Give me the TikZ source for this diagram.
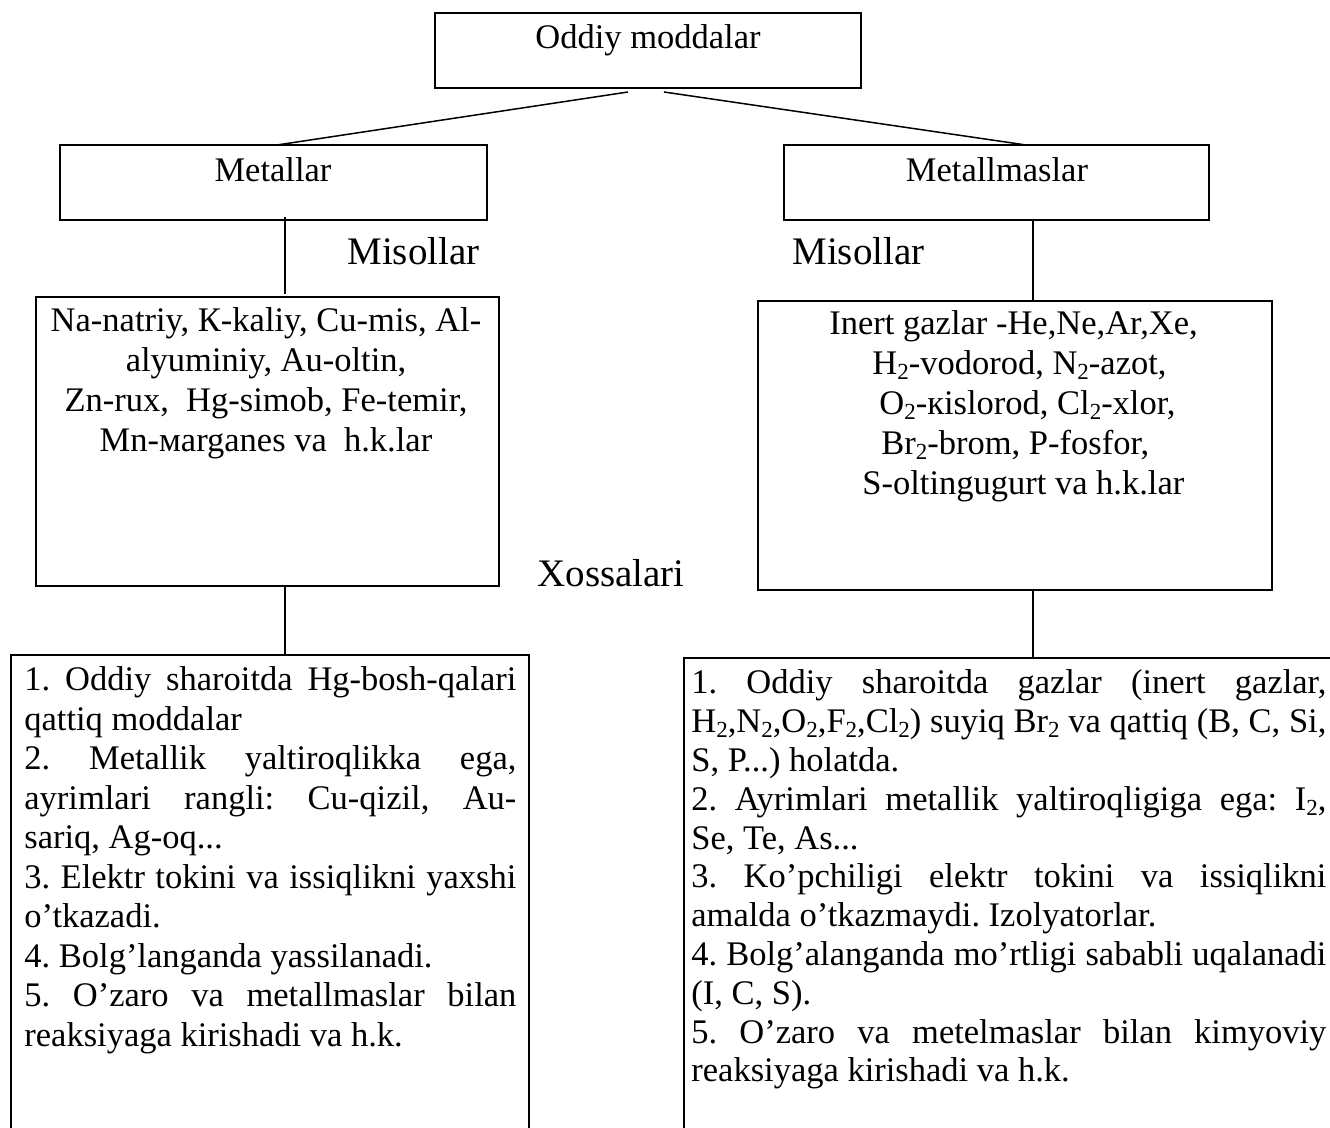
\documentclass[tikz,border=0pt]{standalone}
\usepackage{fontspec}
\setmainfont{Liberation Serif}
\frenchspacing
\newcommand\jl[1]{\makebox[\linewidth][s]{#1}\par}
\newcommand\pl[1]{#1\par}
\newcommand\subs[1]{\raisebox{-0.3ex}{\fontsize{11.5pt}{12pt}\selectfont #1}}
\begin{document}
\begin{tikzpicture}[x=0.5pt,y=-0.5pt,
  box/.style={draw, line width=1.2pt, inner sep=0pt, outer sep=0pt},
  lbl/.style={inner sep=0pt, font=\fontsize{17.25pt}{19.75pt}\selectfont},
  biglbl/.style={inner sep=0pt, font=\fontsize{19.5pt}{22pt}\selectfont},
  conn/.style={line width=0.75pt}]
\useasboundingbox (0,0) rectangle (1330,1128);
\clip (0,0) rectangle (1330,1128);

% boxes
\node[box, minimum width=213pt, minimum height=37.5pt] (top) at (648,50.5) {};
\node[box, minimum width=213.5pt, minimum height=37.5pt] (met) at (273.5,182.5) {};
\node[box, minimum width=212.5pt, minimum height=37.5pt] (nmet) at (996.5,182.5) {};
\node[box, minimum width=231.5pt, minimum height=144.5pt] (mex) at (267.5,441.5) {};
\node[box, minimum width=257pt, minimum height=144.5pt] (nmex) at (1015,445.5) {};
\node[box, minimum width=259pt, minimum height=262.5pt] (mprop) at (270,917.5) {};
\node[box, minimum width=348pt, minimum height=261pt] (nprop) at (1032,919) {};

% titles
\node[lbl, anchor=base] (ttop) at (648,49) {Oddiy moddalar};
\node[lbl, anchor=base] (tmet) at (273,182) {Metallar};
\node[lbl, anchor=base] (tnmet) at (997,182) {Metallmaslar};

\node[biglbl, anchor=base west] (mis1) at (347,265) {Misollar};
\node[biglbl, anchor=base west] (mis2) at (792,265) {Misollar};
\node[biglbl, anchor=base west] (xos) at (537,587) {Xossalari};

% examples (metals)
\node[lbl, anchor=base] (e1) at (266,332) {Na-natriy, К-kaliy, Cu-mis, Al-};
\node[lbl, anchor=base] (e2) at (266,372) {alyuminiy, Au-oltin,};
\node[lbl, anchor=base] (e3) at (266,412) {Zn-rux,\ \ Hg-simob, Fe-temir,};
\node[lbl, anchor=base] (e4) at (266,452) {Mn-мarganes va\ \ h.k.lar};

% examples (non-metals)
\node[lbl, anchor=base west] (n1) at (829,335) {Inert gazlar -He,Ne,Ar,Xe,};
\node[lbl, anchor=base west] (n2) at (872,375) {H\subs{2}-vodorod, N\subs{2}-azot,};
\node[lbl, anchor=base west] (n3) at (879,415) {O\subs{2}-кislorod, Cl\subs{2}-xlor,};
\node[lbl, anchor=base west] (n4) at (881,455) {Br\subs{2}-brom, P-fosfor,};
\node[lbl, anchor=base west] (n5) at (862,495) {S-oltingugurt va h.k.lar};

% properties (metals)
\node[inner sep=0pt, anchor=base west] (pm) at (24,691) {\parbox[t]{246pt}{%
\fontsize{17.25pt}{19.75pt}\selectfont\setlength\parindent{0pt}%
\jl{1. Oddiy sharoitda Hg-bosh-qalari}
\pl{qattiq moddalar}
\jl{2. Metallik yaltiroqlikka ega,}
\jl{ayrimlari rangli: Cu-qizil, Au-}
\pl{sariq, Ag-oq...}
\jl{3. Elektr tokini va issiqlikni yaxshi}
\pl{o’tkazadi.}
\pl{4. Bolg’langanda yassilanadi.}
\jl{5. O’zaro va metallmaslar bilan}
\pl{reaksiyaga kirishadi va h.k.}}};

% properties (non-metals)
\node[inner sep=0pt, anchor=base west] (pn) at (691,694) {\parbox[t]{317.5pt}{%
\fontsize{17.25pt}{19.4pt}\selectfont\setlength\parindent{0pt}%
\jl{1. Oddiy sharoitda gazlar (inert gazlar,}
\jl{H\subs{2},N\subs{2},O\subs{2},F\subs{2},Cl\subs{2}) suyiq Br\subs{2} va qattiq (B, C, Si,}
\pl{S, P...) holatda.}
\jl{2. Ayrimlari metallik yaltiroqligiga ega: I\subs{2},}
\pl{Se, Te, As...}
\jl{3. Ko’pchiligi elektr tokini va issiqlikni}
\pl{amalda o’tkazmaydi. Izolyatorlar.}
\jl{4. Bolg’alanganda mo’rtligi sababli uqalanadi}
\pl{(I, C, S).}
\jl{5. O’zaro va metelmaslar bilan kimyoviy}
\pl{reaksiyaga kirishadi va h.k.}}};

% connectors
\coordinate (d1s) at (628,92);
\coordinate (d1e) at (277,145);
\coordinate (d2s) at (664,92);
\coordinate (d2e) at (1026,145);
\draw[conn] (d1s) -- (d1e);
\draw[conn] (d2s) -- (d2e);
\coordinate (v1s) at (285,217);
\coordinate (v1e) at (285,294);
\coordinate (v2s) at (1033,219);
\coordinate (v2e) at (1033,300);
\coordinate (v3s) at (285,586);
\coordinate (v3e) at (285,655);
\coordinate (v4s) at (1033,590);
\coordinate (v4e) at (1033,658);
\draw[conn] (v1s) -- (v1e);
\draw[conn] (v2s) -- (v2e);
\draw[conn] (v3s) -- (v3e);
\draw[conn] (v4s) -- (v4e);
\end{tikzpicture}
\end{document}
